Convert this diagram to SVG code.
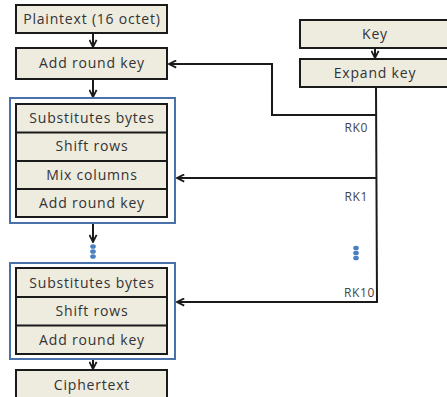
<svg xmlns="http://www.w3.org/2000/svg" width="447" height="397" viewBox="0 0 447 397">
  <style>
    .box { fill: #eeebdf; stroke: #1a1a1a; stroke-width: 2; }
    .frame { fill: #ffffff; stroke: #4a72aa; stroke-width: 2; }
    .row { stroke: #1a1a1a; stroke-width: 2; }
    .lbl { font-family: "Open Sans", "Noto Sans", sans-serif; font-size: 14px; letter-spacing: 0.8px; fill: #333333; text-anchor: middle; }
    .rk { font-family: "Open Sans", "Noto Sans", sans-serif; font-size: 12px; letter-spacing: 0.6px; fill: #444444; text-anchor: end; }
    .wire { fill: none; stroke: #1a1a1a; stroke-width: 2; }
    .dot { fill: #4a7fc1; }
  </style>
  <defs>
    <marker id="arrow" viewBox="0 0 10 10" refX="9" refY="5" markerWidth="9" markerHeight="9" orient="auto" markerUnits="userSpaceOnUse">
      <path d="M1,1 L9,5 L1,9" fill="none" stroke="#1a1a1a" stroke-width="2"/>
    </marker>
  </defs>

  <!-- connectors -->
  <g id="connectors">
    <line class="wire" x1="93" y1="34" x2="93" y2="47" marker-end="url(#arrow)"/>
    <line class="wire" x1="93" y1="80" x2="93" y2="97" marker-end="url(#arrow)"/>
    <line class="wire" x1="93" y1="224" x2="93" y2="242" marker-end="url(#arrow)"/>
    <line class="wire" x1="93" y1="360" x2="93" y2="369" marker-end="url(#arrow)"/>
    <line class="wire" x1="375" y1="48" x2="375" y2="58" marker-end="url(#arrow)"/>
    <!-- key schedule bus -->
    <polyline class="wire" points="376,87 377,302 177,302" marker-end="url(#arrow)"/>
    <polyline class="wire" points="376,115 272,115 272,64 169,64" marker-end="url(#arrow)"/>
    <line class="wire" x1="376" y1="178" x2="177" y2="178" marker-end="url(#arrow)"/>
  </g>

  <!-- round key labels -->
  <g id="rk-labels">
    <text class="rk" x="368" y="132">RK0</text>
    <text class="rk" x="368" y="201">RK1</text>
    <text class="rk" x="375" y="297">RK10</text>
  </g>

  <!-- ellipsis dots -->
  <g id="dots-left">
    <ellipse class="dot" cx="93" cy="246.5" rx="2.8" ry="2.3"/>
    <ellipse class="dot" cx="93" cy="251.5" rx="2.8" ry="2.3"/>
    <ellipse class="dot" cx="93" cy="256.5" rx="2.8" ry="2.3"/>
  </g>
  <g id="dots-right">
    <ellipse class="dot" cx="356" cy="248" rx="2.8" ry="2.3"/>
    <ellipse class="dot" cx="356" cy="253" rx="2.8" ry="2.3"/>
    <ellipse class="dot" cx="356" cy="258" rx="2.8" ry="2.3"/>
  </g>

  <g id="plaintext">
    <rect class="box" x="16" y="5" width="151" height="28"/>
    <text class="lbl" x="92" y="24">Plaintext (16 octet)</text>
  </g>

  <g id="initial-add-round-key">
    <rect class="box" x="16" y="48" width="151" height="31"/>
    <text class="lbl" x="92" y="68">Add round key</text>
  </g>

  <g id="round">
    <rect class="frame" x="10" y="98" width="165" height="125"/>
    <rect class="box" x="16" y="104" width="151" height="113"/>
    <line class="row" x1="16" y1="132.5" x2="167" y2="132.5"/>
    <line class="row" x1="16" y1="161" x2="167" y2="161"/>
    <line class="row" x1="16" y1="189" x2="167" y2="189"/>
    <text class="lbl" x="92" y="123">Substitutes bytes</text>
    <text class="lbl" x="92" y="151">Shift rows</text>
    <text class="lbl" x="92" y="180">Mix columns</text>
    <text class="lbl" x="92" y="208">Add round key</text>
  </g>

  <g id="final-round">
    <rect class="frame" x="10" y="263" width="165" height="96"/>
    <rect class="box" x="16" y="268" width="151" height="86"/>
    <line class="row" x1="16" y1="297" x2="167" y2="297"/>
    <line class="row" x1="16" y1="325.5" x2="167" y2="325.5"/>
    <text class="lbl" x="92" y="288">Substitutes bytes</text>
    <text class="lbl" x="92" y="316">Shift rows</text>
    <text class="lbl" x="92" y="345">Add round key</text>
  </g>

  <g id="ciphertext">
    <rect class="box" x="16" y="370" width="151" height="32"/>
    <text class="lbl" x="92" y="390">Ciphertext</text>
  </g>

  <g id="key">
    <rect class="box" x="300" y="20" width="152" height="28"/>
    <text class="lbl" x="375" y="39">Key</text>
  </g>

  <g id="expand-key">
    <rect class="box" x="300" y="59" width="152" height="28"/>
    <text class="lbl" x="375" y="78">Expand key</text>
  </g>
</svg>
